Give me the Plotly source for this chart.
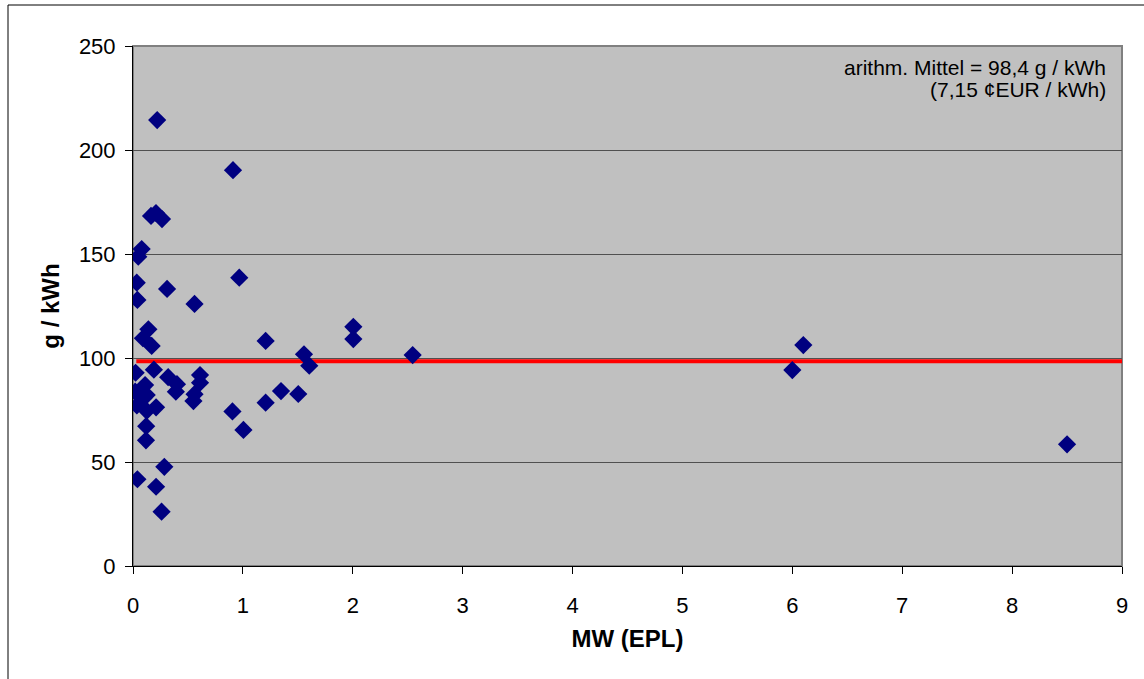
import plotly.graph_objects as go

# Data
mw = [0.22, 0.91, 0.164, 0.209, 0.264, 0.079, 0.048, 0.034, 0.31, 0.04, 0.56, 0.967,
      0.14, 0.09, 0.17, 1.207, 2.005, 2.005, 1.556, 1.604, 2.545,
      0.024, 0.19, 0.32, 0.40, 0.61, 0.61, 0.39, 0.56, 0.55,
      0.11, 0.02, 0.125, 0.094, 0.035, 0.125, 0.21, 0.12, 0.118,
      0.285, 0.04, 0.21, 0.26,
      0.905, 1.005, 1.207, 1.347, 1.504,
      6.0, 6.1, 8.5]
g_kwh = [214.4, 190.3, 168.3, 169.7, 166.8, 152.4, 148.7, 136.2, 133.2, 127.9, 126.0, 138.6,
         113.8, 109.5, 105.8, 108.2, 115.0, 109.1, 101.8, 96.3, 101.4,
         92.9, 94.4, 90.8, 87.4, 91.8, 88.1, 83.8, 82.6, 79.3,
         87.0, 83.8, 82.2, 80.6, 77.2, 74.6, 76.3, 67.2, 60.4,
         47.7, 41.7, 38.1, 26.1,
         74.3, 65.4, 78.5, 84.1, 82.7,
         94.2, 106.2, 58.5]
mean_x = [0.03, 9.0]
mean_y = [98.4, 98.4]
x_ticks = [0, 1, 2, 3, 4, 5, 6, 7, 8, 9]
y_ticks = [0, 50, 100, 150, 200, 250]
note_lines = ["arithm. Mittel = 98,4 g / kWh", "(7,15 ¢EUR / kWh)"]

L, R, T, B = 133, 22, 46, 113
W, H = 1144, 679
pw, ph = W - L - R, H - T - B

fig = go.Figure()
fig.add_trace(go.Scatter(x=mean_x, y=mean_y, mode="lines",
                         line=dict(color="#FF0000", width=4), hoverinfo="skip"))
fig.add_trace(go.Scatter(x=mw, y=g_kwh, mode="markers",
                         marker=dict(symbol="diamond", size=14, color="#000080",
                                     line=dict(width=0))))

font = "Liberation Sans, Arial, sans-serif"
fig.update_layout(
    width=W, height=H,
    margin=dict(l=L, r=R, t=T, b=B),
    paper_bgcolor="white", plot_bgcolor="#C0C0C0",
    showlegend=False,
    font=dict(family=font, color="black", size=22),
    xaxis=dict(range=[0, 9], tickvals=x_ticks, showgrid=False, zeroline=False,
               showline=True, linecolor="black", linewidth=1,
               ticks="outside", ticklen=7, tickcolor="black",
               ticklabelstandoff=13,
               tickfont=dict(size=22),
               title=dict(text="<b>MW (EPL)</b>", font=dict(size=24), standoff=12)),
    yaxis=dict(range=[0, 250], tickvals=y_ticks, showgrid=True, gridcolor="#505050",
               gridwidth=1, zeroline=False,
               showline=True, linecolor="black", linewidth=1,
               ticks="outside", ticklen=7, tickcolor="black",
               ticklabelstandoff=5,
               tickfont=dict(size=22),
               title=dict(text="<b>g / kWh</b>", font=dict(size=24), standoff=12)),
    shapes=[
        dict(type="rect", xref="paper", yref="paper", x0=0, x1=1, y0=0, y1=1,
             line=dict(color="#808080", width=2), layer="below"),
        dict(type="line", xref="paper", yref="paper", x0=(8 - L) / pw, x1=(8 - L) / pw,
             y0=1 + (T - 5) / ph, y1=-(H + 10 - T - ph) / ph,
             line=dict(color="black", width=1)),
        dict(type="line", xref="paper", yref="paper", x0=(8 - L) / pw, x1=(W + 10 - L) / pw,
             y0=1 + (T - 5) / ph, y1=1 + (T - 5) / ph,
             line=dict(color="black", width=1)),
    ],
    annotations=[
        dict(xref="paper", yref="paper", x=(1108 - L) / pw, y=1 - (68 - T) / ph,
             xanchor="right", yanchor="middle", align="right", showarrow=False,
             text=note_lines[0], font=dict(size=21, family=font, color="black")),
        dict(xref="paper", yref="paper", x=(1108 - L) / pw, y=1 - (89 - T) / ph,
             xanchor="right", yanchor="middle", align="right", showarrow=False,
             text=note_lines[1], font=dict(size=21, family=font, color="black")),
    ],
)
fig.write_html("out.html")
